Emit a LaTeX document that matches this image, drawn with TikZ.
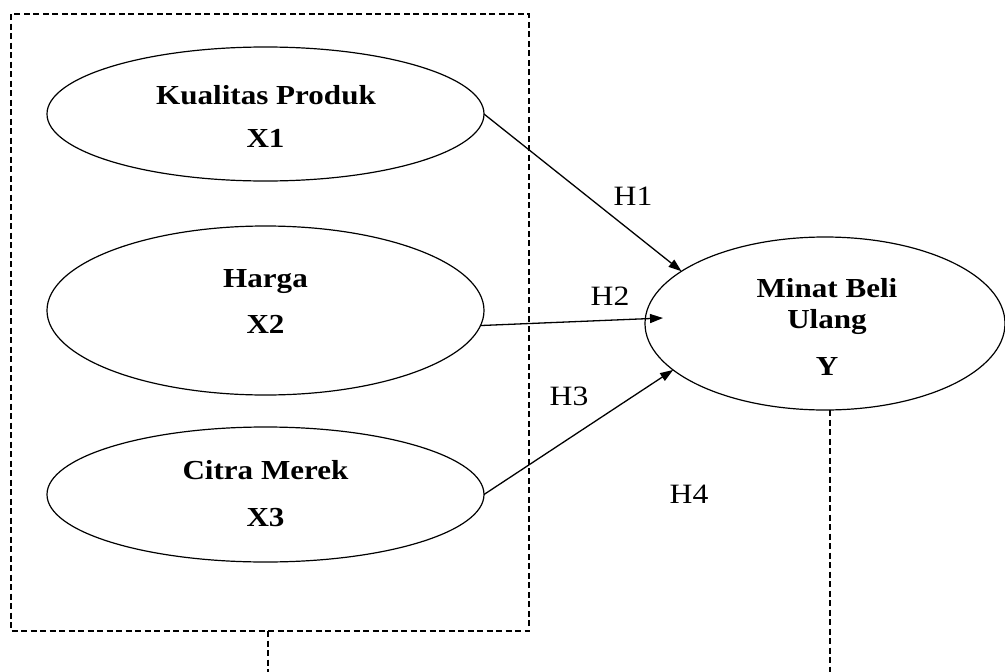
\documentclass[tikz,border=0pt]{standalone}
\usepackage{fontspec}
\setmainfont[FakeStretch=1.13]{Liberation Serif}
\usetikzlibrary{shapes.geometric,arrows.meta}
\begin{document}
\begin{tikzpicture}[x=1pt,y=-1pt,
  every node/.style={inner sep=0pt,outer sep=0pt},
  oval/.style={draw,ellipse,line width=1.2pt},
  lbl/.style={anchor=base,font=\fontsize{27.5}{30}\selectfont\bfseries},
  hlbl/.style={anchor=base,font=\fontsize{28}{30}\selectfont},
  frame/.style={draw,line width=1.2pt,dash pattern=on 6pt off 3.5pt},
  arr/.style={line width=1.3pt,-{Triangle[length=13pt,width=9pt]}}]
\useasboundingbox (0,0) rectangle (1005,672);
% dashed grouping box
\draw[frame] (11,14) rectangle (529,631);
\coordinate (boxb) at (268,631);
\coordinate (boxbend) at (268,672);
\draw[frame] (boxb) -- (boxbend);
% ellipses
\node[oval,minimum width=437pt,minimum height=134pt] (e1) at (265.5,114) {};
\node[oval,minimum width=437pt,minimum height=169pt] (e2) at (265.5,310.5) {};
\node[oval,minimum width=437pt,minimum height=135pt] (e3) at (265.5,494.5) {};
\node[oval,minimum width=360pt,minimum height=173pt] (m) at (825,323.5) {};
% texts
\node[lbl] (t1a) at (266,104) {Kualitas Produk};
\node[lbl] (t1b) at (265.5,147) {X1};
\node[lbl] (t2a) at (265.5,287) {Harga};
\node[lbl] (t2b) at (265.5,333) {X2};
\node[lbl] (t3a) at (265.5,479) {Citra Merek};
\node[lbl] (t3b) at (265.5,526) {X3};
\node[lbl] (tma) at (827,297) {Minat Beli};
\node[lbl] (tmb) at (827,328) {Ulang};
\node[lbl] (tmc) at (827,375) {Y};
% hypothesis labels
\node[hlbl] (h1) at (633,205) {H1};
\node[hlbl] (h2) at (610,305) {H2};
\node[hlbl] (h3) at (569,405) {H3};
\node[hlbl] (h4) at (689,503) {H4};
% arrows
\coordinate (h2end) at (663,318);
\draw[arr] (e1.east) -- (m.160.8);
\draw[arr] (e2.-4) -- (h2end);
\draw[arr] (e3.east) -- (m.197);
% dashed line from Y
\coordinate (mend) at (830,672);
\draw[frame] (m.south -| mend) -- (mend);
\end{tikzpicture}
\end{document}
